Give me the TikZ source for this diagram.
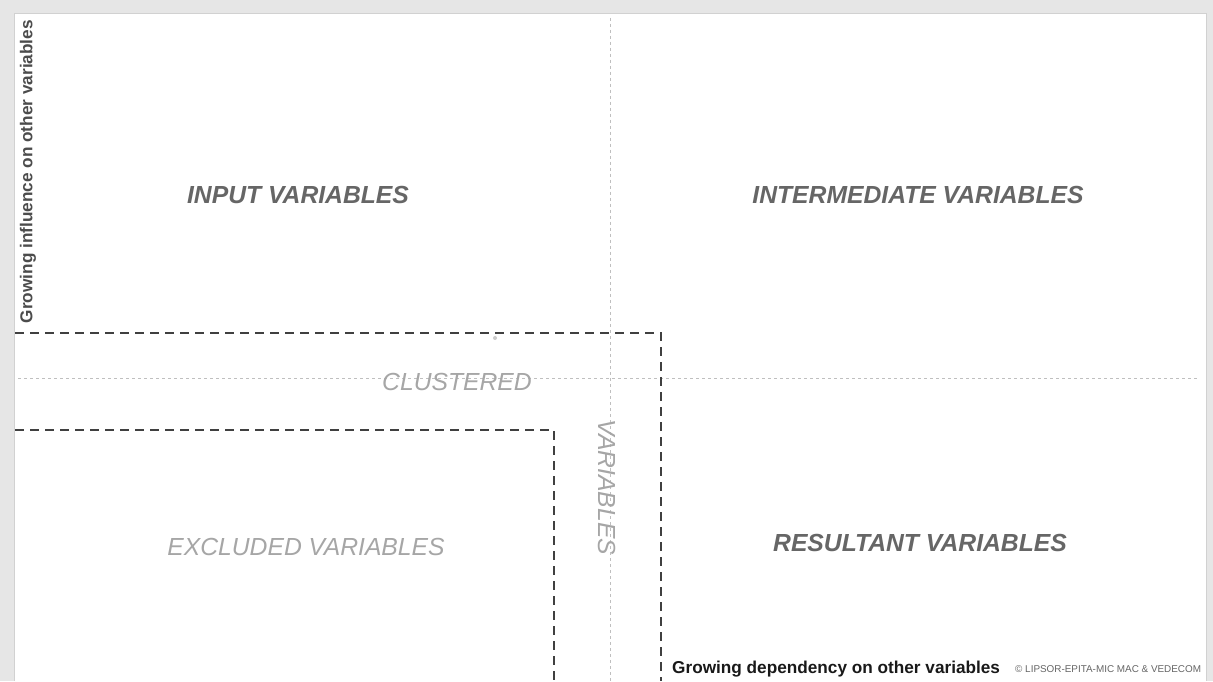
\documentclass[tikz,border=0pt]{standalone}
\usepackage{fontspec}
\setmainfont{Liberation Sans}
\usepackage{xcolor}
\usetikzlibrary{positioning, calc}

\definecolor{frame}{HTML}{E6E6E6}
\definecolor{quad}{HTML}{666666}
\definecolor{faint}{HTML}{A6A6A6}

\begin{document}
\begin{tikzpicture}[
    x=1pt, y=-1pt,
    every node/.style={font={\sffamily}, inner sep=0pt}, % base text look
    quadrant/.style={color=quad, font={\bfseries\itshape\fontsize{24.7}{28}\selectfont}},
    ghost/.style={color=faint, font={\itshape\fontsize{24.7}{28}\selectfont}},
    axis/.style={color=black!70, font={\bfseries\fontsize{17.2}{20}\selectfont}},
    cluster/.style={draw=black!75, line width=1.6pt, dash pattern=on 9pt off 6pt},
    midline/.style={draw=black!25, line width=0.6pt, dash pattern=on 3pt off 3pt}
  ]

  % frame and bounding box
  \fill[frame] (0,0) rectangle (1213,681);
  \fill[white] (14,13) rectangle (1207,681);
  \draw[black!18, line width=0.8pt] (14.5,681) -- (14.5,13.5) -- (1206.5,13.5) -- (1206.5,681);

  % axes of the map
  \coordinate (vtop) at (610,18);
  \coordinate (vbot) at (610,681);
  \coordinate (hleft) at (18,378);
  \coordinate (hright) at (1198,378);
  \draw[midline] (vtop) -- (vbot);
  \draw[midline] (hleft) -- (hright);

  % dashed zones
  \coordinate (c1) at (15,333);
  \coordinate (c2) at (661,333);
  \coordinate (c3) at (661,681);
  \coordinate (e1) at (15,430);
  \coordinate (e2) at (554,430);
  \coordinate (e3) at (554,681);
  \draw[cluster] (c1) -- (c2) -- (c3);
  \draw[cluster] (e1) -- (e2) -- (e3);
  \fill[black!20] (495,338) circle (2pt);

  % quadrant labels
  \node[quadrant] (input) at (298,195) {INPUT VARIABLES};
  \node[quadrant] (inter) at (918,195) {INTERMEDIATE VARIABLES};
  \node[quadrant] (result) at (920,543) {RESULTANT VARIABLES};
  \node[ghost] (excl) at (306,547) {EXCLUDED VARIABLES};
  \node[ghost] (clust) at (457,382) {CLUSTERED};
  \node[ghost, rotate=-90] (vars) at (607,487) {VARIABLES};

  % axis titles
  \node[axis, rotate=90, anchor=east] (infl) at (28,20) {Growing influence on other variables};
  \node[axis, color=black!90, anchor=west] (dep) at (672,669) {Growing dependency on other variables};
  \node[color=black!60, font={\fontsize{9.9}{11}\selectfont}, anchor=west] (copy) at (1015,669) {\textcopyright{} LIPSOR-EPITA-MIC MAC \& VEDECOM};

\end{tikzpicture}
\end{document}
